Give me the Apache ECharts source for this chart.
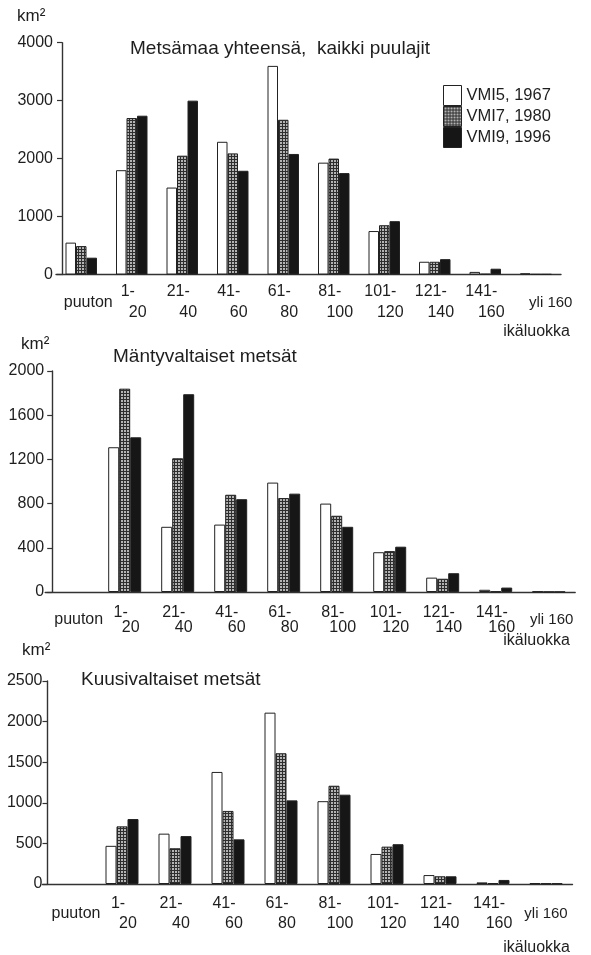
<!DOCTYPE html>
<html>
<head>
<meta charset="utf-8">
<script src="https://cdn.jsdelivr.net/npm/echarts@6/dist/echarts.min.js"></script>
<style>
html,body{margin:0;padding:0;background:#fff;}
#c{width:591px;height:955px;}
</style>
</head>
<body>
<div id="c"></div>
<script>
// ---- data ----
const categories = ['puuton','1-20','21-40','41-60','61-80','81-100','101-120','121-140','141-160','yli 160'];
const seriesNames = ['VMI5, 1967','VMI7, 1980','VMI9, 1996'];

const titleAll = 'Metsämaa yhteensä,  kaikki puulajit';
const titlePine = 'Mäntyvaltaiset metsät';
const titleSpruce = 'Kuusivaltaiset metsät';

const vmi5All = [550, 1800, 1500, 2290, 3600, 1930, 750, 220, 45, 20];
const vmi7All = [490, 2700, 2050, 2090, 2670, 2000, 850, 220, 10, 5];
const vmi9All = [290, 2740, 3000, 1790, 2080, 1750, 920, 265, 100, 5];

const vmi5Pine = [0, 1310, 590, 610, 990, 800, 360, 130, 20, 5];
const vmi7Pine = [0, 1840, 1210, 880, 850, 690, 370, 120, 5, 2];
const vmi9Pine = [0, 1400, 1790, 840, 890, 590, 410, 170, 40, 2];

const vmi5Spruce = [0, 470, 620, 1380, 2110, 1020, 370, 110, 20, 10];
const vmi7Spruce = [0, 710, 440, 900, 1610, 1210, 460, 95, 10, 8];
const vmi9Spruce = [0, 800, 590, 550, 1030, 1100, 490, 95, 50, 8];

const yTicksAll = [0, 4000, 1000];
const yTicksPine = [0, 2000, 400];
const yTicksSpruce = [0, 2500, 500];

// ---- styling ----
const FONT = '"Liberation Sans", Arial, Helvetica, sans-serif';
const TXT = '#1e1e1e';
const LFS = 16; // axis label font size

function makePattern(){
  const c = document.createElement('canvas');
  c.width = 3; c.height = 3;
  const g = c.getContext('2d');
  g.fillStyle = '#b4b4b4'; g.fillRect(0,0,3,3);
  g.fillStyle = '#2e2e2e'; g.fillRect(0,0,3,1); g.fillRect(0,0,1,3);
  return c;
}
const grayFill = {image: makePattern(), repeat: 'repeat'};
const fills = ['#ffffff', grayFill, '#161616'];

const panels = [
  {title: titleAll, data:[vmi5All,vmi7All,vmi9All], ticks: yTicksAll,
   grid:{left:56, width:505, top:42.7, height:231.8}, yOff:-6, barW:10.5,
   lh:21, margin:7, ylm:9, yliPad:30,
   titlePos:{left:130, cy:49}, kmPos:{left:17, cy:16}, ikaCy:332},
  {title: titlePine, data:[vmi5Pine,vmi7Pine,vmi9Pine], ticks: yTicksPine,
   grid:{left:45.2, width:530, top:371, height:221}, yOff:-7, barW:11,
   lh:15, margin:13, ylm:8, yliPad:6,
   titlePos:{left:113, cy:357}, kmPos:{left:21, cy:344}, ikaCy:641},
  {title: titleSpruce, data:[vmi5Spruce,vmi7Spruce,vmi9Spruce], ticks: yTicksSpruce,
   grid:{left:42.5, width:530, top:681, height:203}, yOff:-5, barW:11,
   lh:19.5, margin:10, ylm:5, yliPad:0,
   titlePos:{left:81, cy:680}, kmPos:{left:22, cy:650}, ikaCy:948}
];

const grids = [], xAxes = [], yAxes = [], series = [], titles = [];

panels.forEach((p, i) => {
  grids.push(Object.assign({containLabel:false}, p.grid));
  xAxes.push({
    type:'category', gridIndex:i, data:categories,
    axisLine:{lineStyle:{color:'#333', width:1.4}},
    axisTick:{show:false},
    axisLabel:{
      interval:0, hideOverlap:false, margin:p.margin, color:TXT,
      fontFamily:FONT, fontSize:LFS, lineHeight:p.lh,
      formatter: v => {
        if (v === 'puuton') return '{p|puuton}';
        if (v === 'yli 160') return '{y|yli 160}';
        const parts = v.split('-');
        return '{a|' + parts[0] + '-}\n{b|' + parts[1] + '}';
      },
      rich:{
        a:{fontFamily:FONT, fontSize:LFS, color:TXT, lineHeight:p.lh, padding:[0,8,0,0]},
        b:{fontFamily:FONT, fontSize:LFS, color:TXT, lineHeight:p.lh, padding:[0,0,0,12]},
        p:{fontFamily:FONT, fontSize:LFS, color:TXT, lineHeight:2*p.lh, padding:[0,0,0,14]},
        y:{fontFamily:FONT, fontSize:15, color:TXT, lineHeight:2*p.lh, padding:[0,0,0,p.yliPad]}
      }
    },
    splitLine:{show:false}
  });
  yAxes.push({
    type:'value', gridIndex:i, min:p.ticks[0], max:p.ticks[1], interval:p.ticks[2],
    offset:p.yOff,
    axisLine:{show:true, lineStyle:{color:'#333', width:1.4}},
    axisTick:{show:true, length:5, lineStyle:{color:'#333', width:1.2}},
    axisLabel:{color:TXT, fontFamily:FONT, fontSize:16, margin:p.ylm,
      formatter: v => String(v)},
    splitLine:{show:false}
  });
  p.data.forEach((arr, k) => {
    series.push({
      type:'bar', name:seriesNames[k], xAxisIndex:i, yAxisIndex:i,
      data: arr.map(v => v === 0 ? null : v),
      barWidth:p.barW, barGap:'0%',
      itemStyle:{color:fills[k], borderColor:'#222', borderWidth:1},
      emphasis:{disabled:true}, animation:false
    });
  });
  titles.push({text:p.title, left:p.titlePos.left, top:p.titlePos.cy-12, padding:0,
    textStyle:{fontFamily:FONT, fontSize:19, fontWeight:'normal', color:TXT, lineHeight:24}});
  titles.push({text:'km²', left:p.kmPos.left, top:p.kmPos.cy-10, padding:0,
    textStyle:{fontFamily:FONT, fontSize:17, fontWeight:'normal', color:TXT, lineHeight:20}});
  titles.push({text:'ikäluokka', right:21, top:p.ikaCy-10, padding:0,
    textStyle:{fontFamily:FONT, fontSize:16, fontWeight:'normal', color:TXT, lineHeight:20}});
});

const chart = echarts.init(document.getElementById('c'), null, {renderer:'canvas'});
chart.setOption({
  animation:false,
  backgroundColor:'#fff',
  title: titles,
  legend:{
    data: seriesNames, orient:'vertical', left:443, top:85, padding:0,
    itemWidth:18, itemHeight:20, itemGap:0, icon:'rect',
    itemStyle:{borderColor:'#222', borderWidth:1},
    textStyle:{fontFamily:FONT, fontSize:16.5, color:TXT, padding:[0,0,0,0]},
    selectedMode:false
  },
  grid: grids, xAxis: xAxes, yAxis: yAxes, series: series
});
</script>
</body>
</html>
